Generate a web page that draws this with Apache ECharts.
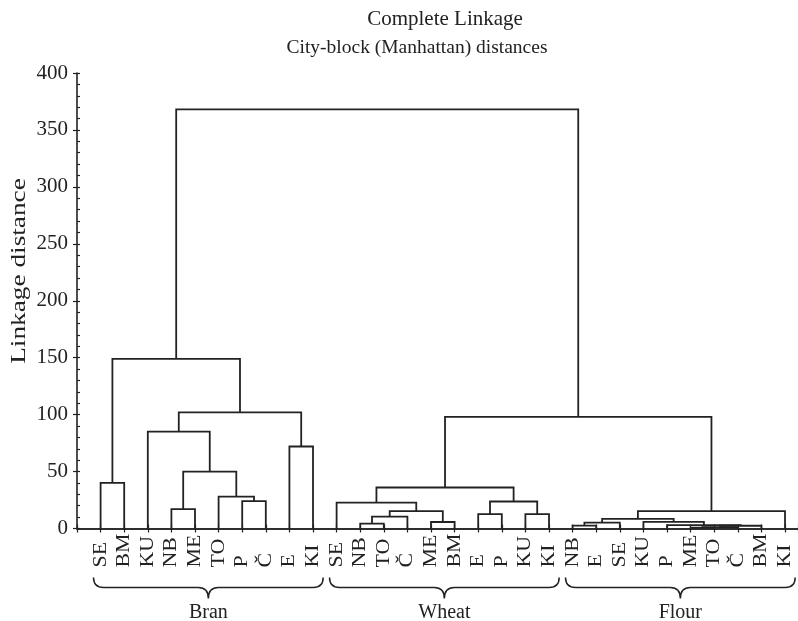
<!DOCTYPE html>
<html>
<head>
<meta charset="utf-8">
<script src="https://cdn.jsdelivr.net/npm/echarts@6/dist/echarts.min.js"></script>
<style>
  html, body { margin: 0; padding: 0; background: #fff; }
  #chart { width: 798px; height: 621px; }
</style>
</head>
<body>
<div id="chart"></div>
<script>
// Leaf order along the bottom axis (positions 1..30)
const leafNames = [
  'SE', 'BM', 'KU', 'NB', 'ME', 'TO', 'P', 'Č', 'E', 'KI',
  'SE', 'NB', 'TO', 'Č', 'ME', 'BM', 'E', 'P', 'KU', 'KI',
  'NB', 'E', 'SE', 'KU', 'P', 'ME', 'TO', 'Č', 'BM', 'KI'
];

// Sample groups: name and first/last leaf position
const groupNames = ['Bran', 'Wheat', 'Flour'];
const groupFirst = [1, 11, 21];
const groupLast = [10, 20, 30];

// Merge steps: [child A, child B, linkage distance].
// Children 0..29 are leaves (0-based), 30 and up refer to earlier merges.
const branMerges = [
  [3, 4, 17],      // 30 NB + ME
  [6, 7, 24],      // 31 P + Č
  [5, 31, 28],     // 32 TO + (P,Č)
  [0, 1, 40],      // 33 SE + BM
  [30, 32, 50],    // 34
  [8, 9, 72],      // 35 E + KI
  [2, 34, 85],     // 36 KU + ...
  [36, 35, 102],   // 37
  [33, 37, 149]    // 38 Bran
];
const wheatMerges = [
  [11, 12, 4.3],   // 39 NB + TO
  [14, 15, 5.7],   // 40 ME + BM
  [39, 13, 10.4],  // 41 + Č
  [16, 17, 12.7],  // 42 E + P
  [18, 19, 12.6],  // 43 KU + KI
  [41, 40, 15.2],  // 44
  [10, 44, 22.8],  // 45 SE + ...
  [42, 43, 23.7],  // 46
  [45, 46, 36]     // 47 Wheat
];
const flourMerges = [
  [25, 26, 0.7],   // 48 ME + TO
  [48, 27, 1.2],   // 49 + Č
  [49, 28, 2.4],   // 50 + BM
  [24, 50, 2.9],   // 51 P + ...
  [20, 21, 2.6],   // 52 NB + E
  [52, 22, 5.1],   // 53 + SE
  [23, 51, 5.8],   // 54 KU + ...
  [53, 54, 8.5],   // 55
  [55, 29, 15.3]   // 56 Flour
];
const topMerges = [
  [47, 56, 98],    // 57 Wheat + Flour
  [38, 57, 368]    // 58 all
];

const yTicks = { min: 0, max: 400, major: 50, minor: 10 };
// x range in leaf units: the plot frame continues past the right edge of the page
const xRange = { min: 0, max: 30.55 };

// Node positions in axis units: leaves sit at 1..30, a merge sits midway between its children
const merges = [].concat(branMerges, wheatMerges, flourMerges, topMerges);
const nodeX = leafNames.map((_, i) => i + 1);
const nodeH = leafNames.map(() => 0);
const links = merges.map(([a, b, h]) => {
  const link = [nodeX[a], nodeH[a], nodeX[b], nodeH[b], h];
  nodeX.push((nodeX[a] + nodeX[b]) / 2);
  nodeH.push(h);
  return link;
});
const leaves = leafNames.map((_, i) => [i + 1, 0]);
const groups = groupNames.map((name, i) => [groupFirst[i], groupLast[i], i]);

const serif = '"Liberation Serif", "Times New Roman", serif';
const ink = '#222';

const chart = echarts.init(document.getElementById('chart'), null, { renderer: 'canvas' });

chart.setOption({
  backgroundColor: '#fff',
  animation: false,
  title: [
    {
      text: 'Complete Linkage', left: 440, top: 4, textAlign: 'center',
      textStyle: { fontFamily: serif, fontSize: 21, fontWeight: 'normal', color: ink }
    },
    {
      text: 'City-block (Manhattan) distances', left: 412, top: 33, textAlign: 'center',
      textStyle: { fontFamily: serif, fontSize: 19.5, fontWeight: 'normal', color: ink }
    }
  ],
  graphic: [
    {
      type: 'text', x: 19, y: 271, rotation: Math.PI / 2, scaleX: 1.3,
      style: {
        text: 'Linkage distance', align: 'center', verticalAlign: 'middle',
        font: '21px ' + serif, fill: ink
      }
    }
  ],
  grid: { left: 77, top: 73, bottom: 92.5, right: 0, containLabel: false },
  xAxis: [
    {
      type: 'value', position: 'bottom', min: xRange.min, max: xRange.max, interval: 1,
      splitLine: { show: false },
      axisLine: { show: true, lineStyle: { color: ink, width: 1.6 } },
      axisTick: { show: true, inside: true, length: 4, lineStyle: { color: ink, width: 1.2 } },
      axisLabel: { show: false }
    },
    {
      type: 'value', position: 'top', min: xRange.min, max: xRange.max, interval: 1,
      splitLine: { show: false },
      axisLine: { show: true, lineStyle: { color: ink, width: 1.6 } },
      axisTick: { show: true, inside: true, length: 4, lineStyle: { color: ink, width: 1.2 } },
      axisLabel: { show: false }
    }
  ],
  yAxis: [
    {
      type: 'value', position: 'left', min: yTicks.min, max: yTicks.max, interval: yTicks.major,
      splitLine: { show: false },
      axisLine: { show: true, lineStyle: { color: ink, width: 1.6 } },
      axisTick: { show: true, inside: false, length: 4, lineStyle: { color: ink, width: 1.2 } },
      axisLabel: { fontFamily: serif, fontSize: 21, color: ink, margin: 9 }
    },
    {
      type: 'value', position: 'left', min: yTicks.min, max: yTicks.max, interval: yTicks.minor,
      splitLine: { show: false },
      axisLine: { show: false },
      axisTick: { show: true, inside: true, length: 3, lineStyle: { color: ink, width: 1.2 } },
      axisLabel: { show: false }
    }
  ],
  series: [
    {
      // dendrogram links: each merge is a bracket from its two children up to its height
      type: 'custom',
      name: 'links',
      xAxisIndex: 0, yAxisIndex: 0,
      clip: false,
      encode: { x: [0, 2], y: [1, 3, 4] },
      data: links,
      renderItem(params, api) {
        const xa = api.value(0), ha = api.value(1), xb = api.value(2), hb = api.value(3), h = api.value(4);
        return {
          type: 'polyline',
          shape: { points: [api.coord([xa, ha]), api.coord([xa, h]), api.coord([xb, h]), api.coord([xb, hb])] },
          style: { stroke: ink, lineWidth: 1.8, fill: null }
        };
      }
    },
    {
      // leaf names under the axis, reading upwards
      type: 'custom',
      name: 'leaves',
      xAxisIndex: 0, yAxisIndex: 0,
      clip: false,
      encode: { x: 0, y: 1 },
      data: leaves,
      renderItem(params, api) {
        const p = api.coord([api.value(0), api.value(1)]);
        return {
          type: 'text',
          x: p[0], y: p[1] + 39,
          rotation: Math.PI / 2, scaleX: 1.15,
          style: {
            text: leafNames[params.dataIndex], x: 0, y: 0,
            align: 'left', verticalAlign: 'middle',
            font: '19px ' + serif, fill: ink
          }
        };
      }
    },
    {
      // braces and group names
      type: 'custom',
      name: 'groups',
      xAxisIndex: 0, yAxisIndex: 0,
      clip: false,
      encode: { x: [0, 1] },
      data: groups,
      renderItem(params, api) {
        const x0 = api.coord([api.value(0) - 0.3, 0])[0];
        const x1 = api.coord([api.value(1) + 0.43, 0])[0];
        const base = api.coord([0, 0])[1];
        const xc = (x0 + x1) / 2;
        const yTop = base + 49, yMid = base + 59, yTip = base + 70, r = 10;
        const path = [
          'M', x0, yTop, 'Q', x0, yMid, x0 + r, yMid,
          'L', xc - r, yMid, 'Q', xc, yMid, xc, yTip,
          'Q', xc, yMid, xc + r, yMid,
          'L', x1 - r, yMid, 'Q', x1, yMid, x1, yTop
        ].join(' ');
        return {
          type: 'group',
          children: [
            { type: 'path', shape: { pathData: path }, style: { stroke: ink, lineWidth: 1.5, fill: null } },
            {
              type: 'text',
              style: {
                text: groupNames[api.value(2)], x: xc, y: base + 84,
                align: 'center', verticalAlign: 'middle',
                font: '20px ' + serif, fill: ink
              }
            }
          ]
        };
      }
    }
  ]
});
</script>
</body>
</html>
